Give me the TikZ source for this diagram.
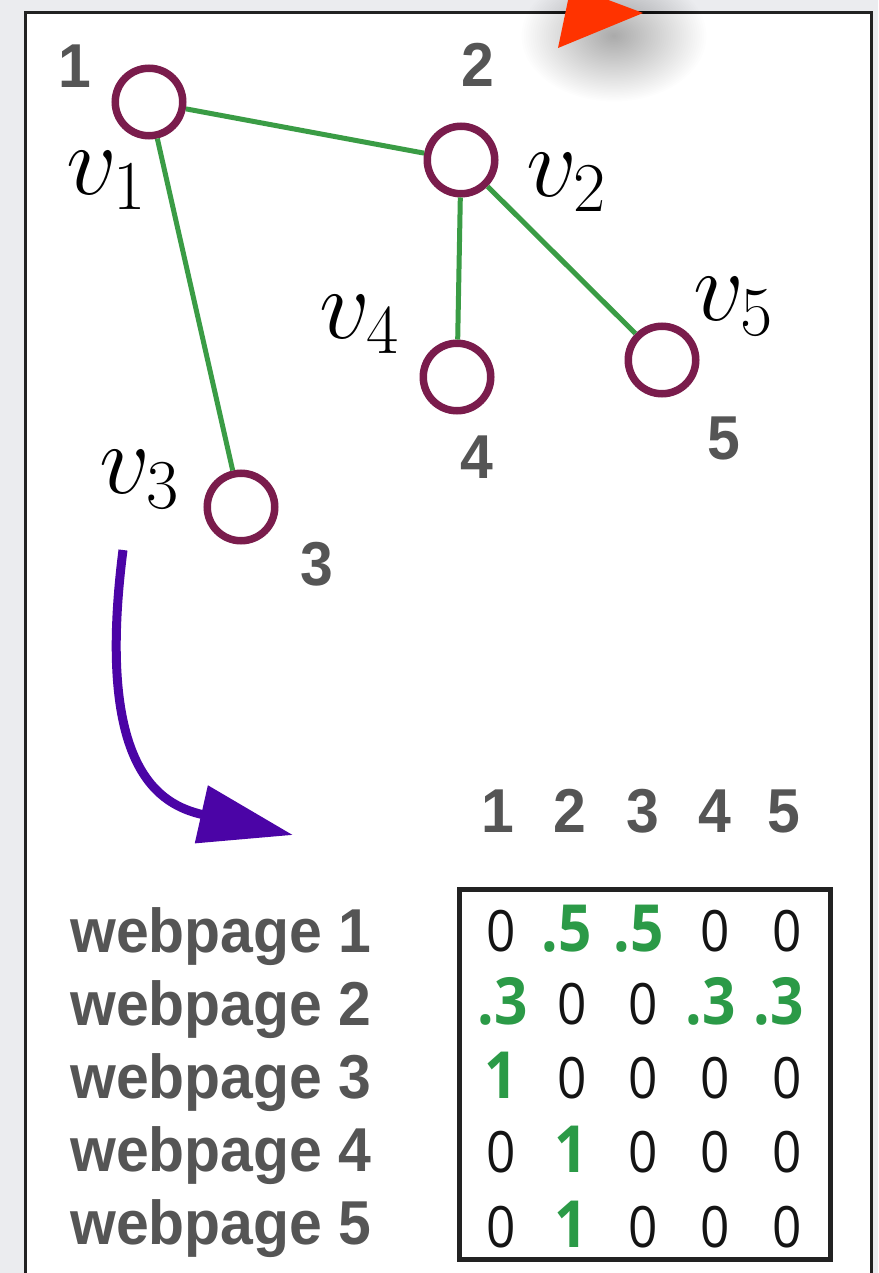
\RequirePackage{fix-cm}
\documentclass[tikz,border=0pt]{standalone}
\usepackage{fontspec}
\usetikzlibrary{arrows.meta}
\newfontfamily\labelfont[FakeStretch=0.95]{Liberation Sans}
\newfontfamily\cellfont[FakeStretch=0.9]{Open Sans}
\definecolor{pagebg}{HTML}{EBECEF}
\definecolor{framecol}{HTML}{222222}
\definecolor{nodering}{HTML}{7A1C4C}
\definecolor{edgegreen}{HTML}{3A9C45}
\definecolor{cellgreen}{HTML}{2B9A47}
\definecolor{labelgray}{HTML}{555555}
\definecolor{flowpurple}{HTML}{4B04A6}
\definecolor{pointerred}{HTML}{FF3300}
\tikzset{
  vert/.style={circle, draw=nodering, line width=7.5pt, fill=white, minimum size=67.5pt, inner sep=0pt},
  link/.style={draw=edgegreen, line width=5pt},
  numlbl/.style={anchor=base, inner sep=0pt, text=labelgray, font=\labelfont\bfseries\fontsize{62}{62}\selectfont},
  varlbl/.style={anchor=base west, inner sep=0pt, font=\fontsize{100}{100}\selectfont},
  rowlbl/.style={anchor=base west, inner sep=0pt, text=labelgray, font=\labelfont\bfseries\fontsize{62}{62}\selectfont},
  cell/.style={anchor=base, inner sep=0pt, text=black!92, font=\cellfont\fontsize{57}{57}\selectfont},
  hot/.style={anchor=base, inner sep=0pt, text=cellgreen, font=\cellfont\bfseries\fontsize{65}{65}\selectfont},
}
\begin{document}
\begin{tikzpicture}[x=1pt, y=-1pt]
  \useasboundingbox (0,0) rectangle (878,1273);
  \clip (0,0) rectangle (878,1273);
  % page background and white panel
  \fill[pagebg] (0,0) rectangle (878,1273);
  \fill[white] (25.5,12.5) rectangle (871,1290);
  \draw[framecol, line width=3pt] (25.5,1290) -- (25.5,12.5) -- (871,12.5) -- (871,1290);

  % graph vertices
  \node[vert] (n1) at (149,102) {};
  \node[vert] (n2) at (461,160) {};
  \node[vert] (n3) at (241,507) {};
  \node[vert] (n4) at (457,377) {};
  \node[vert] (n5) at (662,360) {};

  % links between pages
  \path[link] (n1) -- (n2);
  \path[link] (n1) -- (n3);
  \path[link] (n2) -- (n4);
  \path[link] (n2) -- (n5);

  % page numbers
  \node[numlbl] (k1) at (75,88) {1};
  \node[numlbl] (k2) at (478,87) {2};
  \node[numlbl] (k3) at (317,585) {3};
  \node[numlbl] (k4) at (477,478) {4};
  \node[numlbl] (k5) at (724,459) {5};

  % vertex names
  \node[varlbl] (t1) at (66,195) {$v_1$};
  \node[varlbl] (t2) at (526,197) {$v_2$};
  \node[varlbl] (t3) at (99,493) {$v_3$};
  \node[varlbl] (t4) at (319,338) {$v_4$};
  \node[varlbl] (t5) at (693,320) {$v_5$};

  % arrow from graph to matrix
  \coordinate (flowA) at (123,550);
  \coordinate (flowB) at (293,835);
  \draw[flowpurple, line width=9pt, -{Triangle[length=94pt, width=57pt]}]
    (flowA) .. controls (95,770) and (160,805) .. (flowB);

  % column headers
  \foreach \c/\x in {1/498, 2/570, 3/643, 4/715, 5/784}
    \node[numlbl] (h\c) at (\x,832) {\c};

  % row labels
  \foreach \r/\y in {1/952, 2/1025, 3/1098, 4/1171, 5/1244}
    \node[rowlbl] (w\r) at (70,\y) {webpage \r};

  % transition matrix frame
  \node[draw=framecol, line width=5pt, minimum width=371pt, minimum height=370pt, inner sep=0pt] (mat) at (645,1074.5) {};

  % matrix entries
  \node[cell] (m11) at (501,951) {0};
  \node[hot]  (m12) at (567,951) {.5};
  \node[hot]  (m13) at (639,951) {.5};
  \node[cell] (m14) at (715,951) {0};
  \node[cell] (m15) at (787,951) {0};

  \node[hot]  (m21) at (503,1024) {.3};
  \node[cell] (m22) at (572,1024) {0};
  \node[cell] (m23) at (643,1024) {0};
  \node[hot]  (m24) at (711,1024) {.3};
  \node[hot]  (m25) at (779,1024) {.3};

  \node[hot]  (m31) at (501,1098) {1};
  \node[cell] (m32) at (572,1098) {0};
  \node[cell] (m33) at (643,1098) {0};
  \node[cell] (m34) at (715,1098) {0};
  \node[cell] (m35) at (787,1098) {0};

  \node[cell] (m41) at (501,1172) {0};
  \node[hot]  (m42) at (571,1172) {1};
  \node[cell] (m43) at (643,1172) {0};
  \node[cell] (m44) at (715,1172) {0};
  \node[cell] (m45) at (787,1172) {0};

  \node[cell] (m51) at (501,1247) {0};
  \node[hot]  (m52) at (571,1247) {1};
  \node[cell] (m53) at (643,1247) {0};
  \node[cell] (m54) at (715,1247) {0};
  \node[cell] (m55) at (787,1247) {0};

  % soft shadow under the red pointer
  \foreach \r in {2,4,...,84}
    \fill[black, opacity=0.009] (614,36) ellipse [x radius={\r*1.1pt}, y radius={\r*0.78pt}];
  % red pointer head entering from the top
  \fill[pointerred] (558,48) -- (643,13) -- (571,-14) -- cycle;
\end{tikzpicture}
\end{document}
